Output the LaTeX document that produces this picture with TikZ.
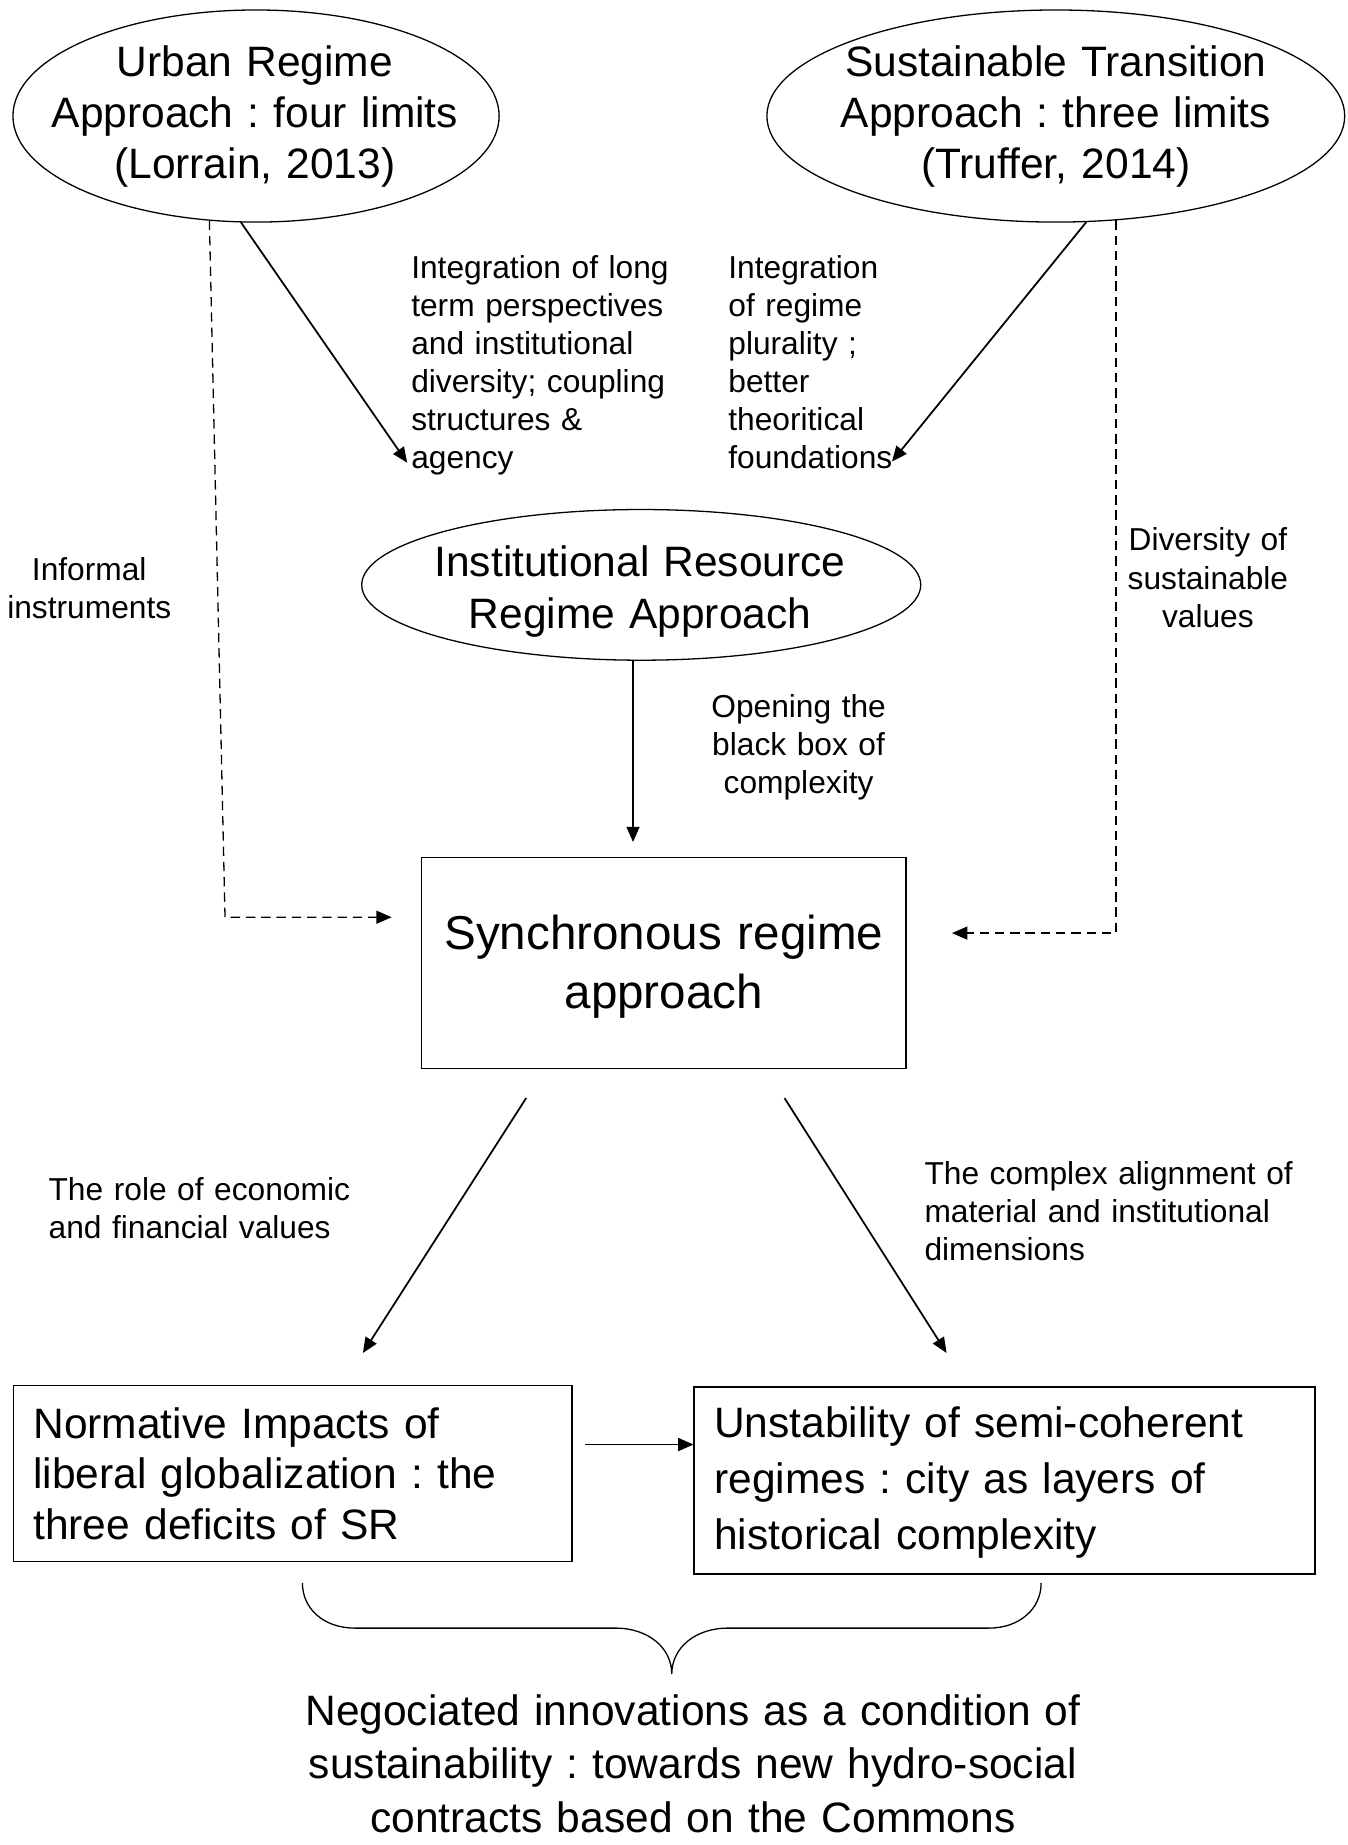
\documentclass[tikz,border=0pt]{standalone}
\usepackage{fontspec}
\setmainfont{Liberation Sans}
\usetikzlibrary{shapes.geometric,arrows.meta}
\frenchspacing
\begin{document}
\begin{tikzpicture}[x=1pt,y=-1pt,
  outl/.style={draw,line width=1.1pt,inner sep=0pt},
  oval/.style={outl,ellipse},
  box/.style={outl,rectangle},
  big/.style={font=\fontsize{36.2}{#1}\selectfont},
  small/.style={font=\fontsize{27}{#1}\selectfont},
  txt/.style={inner sep=0pt,text width=#1},
  arr/.style={line width=1.5pt,-{Triangle[length=13pt,width=11pt]}},
  darr/.style={line width=1.1pt,dash pattern=on 8pt off 5pt,-{Triangle[length=13pt,width=11pt]}},
]
\useasboundingbox (0,0) rectangle (1147,1571);

% ellipses
\node[oval,minimum width=414pt,minimum height=180.6pt] (e1) at (218,98.8) {};
\node[big=43.2pt,txt=400pt,align=center,anchor=base] (e1t) at (217,65.5)
  {Urban Regime\\Approach : four limits\\(Lorrain, 2013)};
\node[oval,minimum width=492pt,minimum height=180.6pt] (e2) at (899,98.8) {};
\node[big=43.2pt,txt=420pt,align=center,anchor=base] (e2t) at (899,65.5)
  {Sustainable Transition\\Approach : three limits\\(Truffer, 2014)};
\node[oval,minimum width=476pt,minimum height=128.3pt] (e3) at (546,498) {};
\node[big=44pt,txt=420pt,align=center,anchor=base] (e3t) at (545,491)
  {Institutional Resource\\Regime Approach};

% boxes
\node[box,minimum width=412.5pt,minimum height=180pt] (sync) at (565.2,820) {};
\node[txt=400pt,align=center,anchor=base,
  font=\fontsize{40.5}{50}\selectfont] (synct) at (565.2,808.5) {Synchronous regime\\approach};
\node[box,minimum width=475.6pt,minimum height=149.8pt,inner xsep=17pt,
  text width=441.6pt,align=left,big=43.4pt] (lb) at (249.2,1254.9)
  {Normative Impacts of\\liberal globalization : the\\three deficits of SR};
\node[box,minimum width=528.7pt,minimum height=159.3pt] (rb) at (855.4,1260.7) {};
\node[txt=494.7pt,align=left,anchor=base west,big=47.8pt] (rbt) at (608,1224)
  {Unstability of semi-coherent\\regimes : city as layers of\\historical complexity};

% labels
\node[small=32.4pt,txt=240pt,align=left,anchor=base west] (l1) at (350,237)
  {Integration of long\\term perspectives\\and institutional\\diversity; coupling\\structures \&\\agency};
\node[small=32.4pt,txt=170pt,align=left,anchor=base west] (l2) at (620,237)
  {Integration\\of regime\\plurality ;\\better\\theoritical\\foundations};
\node[small=32pt,txt=200pt,align=center,anchor=base] (l3) at (76,494.5)
  {Informal\\instruments};
\node[small=32.6pt,txt=200pt,align=center,anchor=base] (l4) at (1028.5,469)
  {Diversity of\\sustainable\\values};
\node[small=32.3pt,txt=200pt,align=center,anchor=base] (l5) at (680,611)
  {Opening the\\black box of\\complexity};
\node[small=32pt,txt=320pt,align=left,anchor=base west] (l6) at (41.2,1022.5)
  {The role of economic\\and financial values};
\node[small=32.6pt,txt=340pt,align=left,anchor=base west] (l7) at (787,1008.5)
  {The complex alignment of\\material and institutional\\dimensions};

% bottom text
\node[big=45.5pt,txt=720pt,align=center,anchor=base] (bt) at (590,1469)
  {Negociated innovations as a condition of\\sustainability : towards new hydro-social\\contracts based on the Commons};

% connector end points
\coordinate (a1e) at (346.7,394);
\coordinate (a2e) at (759.5,393);
\coordinate (dlc) at (191.6,781);
\coordinate (dle) at (333.5,781);
\coordinate (dre) at (810.6,794.5);
\coordinate (dte) at (539,717);
\coordinate (s1) at (448,935);
\coordinate (t1) at (309,1152);
\coordinate (s2) at (668,935);
\coordinate (t2) at (806,1152);
\coordinate (m1) at (498,1230);

% connectors
\draw[arr] (e1.262) -- (a1e);
\draw[arr] (e2.286.6) -- (a2e);
\draw[darr] (e1.246.5) -- (dlc) -- (dle);
\draw[darr] (e2.300.9) |- (dre);
\draw[arr] (dte |- e3.south) -- (dte);
\draw[arr] (s1) -- (t1);
\draw[arr] (s2) -- (t2);
\draw[arr] (m1) -- (m1 -| rb.west);

% brace
\draw[line width=1.1pt] (257.5,1348) .. controls (257.5,1370) and (276,1386.3) .. (302,1386.3)
  -- (524,1386.3) .. controls (552,1386.3) and (572,1403) .. (572,1425.5)
  .. controls (572,1403) and (592,1386.3) .. (620,1386.3)
  -- (842,1386.3) .. controls (868,1386.3) and (886.5,1370) .. (886.5,1348);
\end{tikzpicture}
\end{document}
